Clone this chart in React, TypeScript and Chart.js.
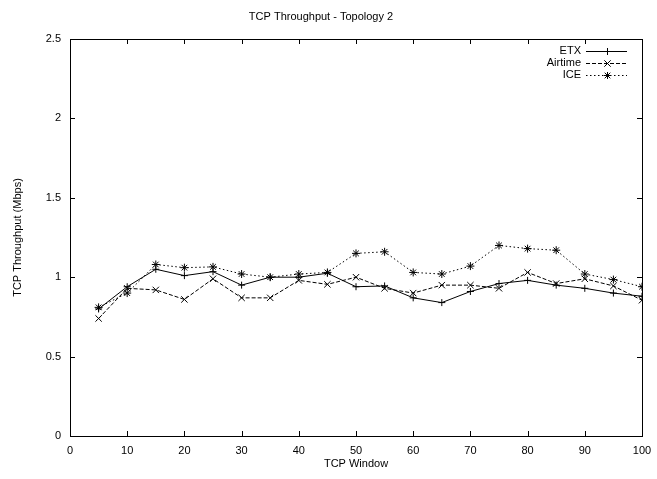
import React, { useEffect, useRef } from "react";
import { Chart, registerables } from "chart.js";

Chart.register(...registerables);

const windows = [5, 10, 15, 20, 25, 30, 35, 40, 45, 50, 55, 60, 65, 70, 75, 80, 85, 90, 95, 100];
const etx = [0.80, 0.94, 1.05, 1.01, 1.035, 0.95, 1.00, 1.00, 1.025, 0.94, 0.945, 0.87, 0.84, 0.91, 0.96, 0.98, 0.95, 0.93, 0.90, 0.88];
const airtime = [0.74, 0.93, 0.92, 0.86, 0.99, 0.87, 0.87, 0.98, 0.955, 1.00, 0.93, 0.90, 0.95, 0.95, 0.93, 1.03, 0.96, 0.99, 0.945, 0.855];
const ice = [0.81, 0.90, 1.08, 1.06, 1.065, 1.02, 1.00, 1.02, 1.03, 1.15, 1.16, 1.03, 1.02, 1.07, 1.20, 1.18, 1.17, 1.02, 0.985, 0.94];

const seriesNames = ["ETX", "Airtime", "ICE"];
const xTicks = [0, 10, 20, 30, 40, 50, 60, 70, 80, 90, 100];
const yTicks = [0, 0.5, 1, 1.5, 2, 2.5];

const FONT = '"Liberation Sans", Arial, Helvetica, sans-serif';

function marker(ctx: CanvasRenderingContext2D, kind: number, x: number, y: number) {
  ctx.beginPath();
  if (kind === 0 || kind === 2) {
    ctx.moveTo(x - 3.5, y);
    ctx.lineTo(x + 3.5, y);
    ctx.moveTo(x, y - 3.5);
    ctx.lineTo(x, y + 3.5);
  }
  if (kind === 1 || kind === 2) {
    const d = kind === 1 ? 3.2 : 2.8;
    ctx.moveTo(x - d, y - d);
    ctx.lineTo(x + d, y + d);
    ctx.moveTo(x - d, y + d);
    ctx.lineTo(x + d, y - d);
  }
  ctx.stroke();
}

const boxPlugin = {
  id: "gnuplotBox",
  afterDraw(chart: any) {
    const { ctx, chartArea } = chart;
    const { left, right, top, bottom } = chartArea;
    const xs = chart.scales.x;
    const ys = chart.scales.y;
    ctx.save();
    ctx.strokeStyle = "#000";
    ctx.lineWidth = 1;
    ctx.setLineDash([]);
    ctx.strokeRect(Math.round(left) + 0.5, Math.round(top) + 0.5, Math.round(right - left), Math.round(bottom - top));
    const tl = 5;
    ctx.beginPath();
    for (const v of xTicks) {
      const px = Math.round(xs.getPixelForValue(v)) + 0.5;
      ctx.moveTo(px, bottom);
      ctx.lineTo(px, bottom - tl);
      ctx.moveTo(px, top);
      ctx.lineTo(px, top + tl);
    }
    for (const v of yTicks) {
      const py = Math.round(ys.getPixelForValue(v)) + 0.5;
      ctx.moveTo(left, py);
      ctx.lineTo(left + tl, py);
      ctx.moveTo(right, py);
      ctx.lineTo(right - tl, py);
    }
    ctx.stroke();

    // legend
    const textRight = right - 61;
    const lineStart = right - 56;
    const lineEnd = right - 15;
    const rowY = [top + 12, top + 24, top + 36];
    const dashes = [[], [4, 2], [1.5, 2.5]];
    ctx.font = "11px " + FONT;
    ctx.fillStyle = "#000";
    ctx.textAlign = "right";
    ctx.textBaseline = "middle";
    chart.data.datasets.forEach((ds: any, i: number) => {
      const y = rowY[i];
      ctx.fillText(ds.label, textRight, y);
      ctx.save();
      ctx.setLineDash(dashes[i]);
      ctx.beginPath();
      ctx.moveTo(lineStart, y + 0.5);
      ctx.lineTo(lineEnd, y + 0.5);
      ctx.stroke();
      ctx.restore();
      ctx.setLineDash([]);
      marker(ctx, i, Math.round((lineStart + lineEnd) / 2) + 0.5, y + 0.5);
    });
    ctx.restore();
  },
};

export default function App() {
  const ref = useRef<HTMLCanvasElement | null>(null);
  useEffect(() => {
    if (!ref.current) return;
    const mk = (label: string, vals: number[], style: string, r: number, dash: number[]) => ({
      label,
      data: windows.map((w, i) => ({ x: w, y: vals[i] })),
      borderColor: "#000",
      backgroundColor: "#000",
      borderWidth: 1,
      borderDash: dash,
      pointStyle: style,
      pointRadius: r,
      pointBorderColor: "#000",
      pointBorderWidth: 1,
      pointHoverRadius: r,
      tension: 0,
      fill: false,
    });
    const chart = new Chart(ref.current, {
      type: "line",
      data: {
        datasets: [
          mk(seriesNames[0], etx, "cross", 3.5, []),
          mk(seriesNames[1], airtime, "crossRot", 4.5, [4, 2]),
          mk(seriesNames[2], ice, "star", 4, [1.5, 2.5]),
        ],
      },
      options: {
        animation: false,
        responsive: true,
        maintainAspectRatio: false,
        layout: { padding: { left: 0, right: 15, top: 0, bottom: 8 } },
        plugins: {
          legend: { display: false },
          tooltip: { enabled: false },
          title: {
            display: true,
            text: "TCP Throughput - Topology 2",
            color: "#000",
            font: { family: FONT, size: 11, weight: "normal" },
            padding: { top: 10.4, bottom: 15.4 },
          },
        },
        scales: {
          x: {
            type: "linear",
            min: 0,
            max: 100,
            afterBuildTicks: (s: any) => {
              s.ticks = xTicks.map((v) => ({ value: v }));
            },
            afterFit: (s: any) => {
              s.height = 35;
              s.paddingLeft = 0;
              s.paddingRight = 0;
            },
            grid: { display: false, drawTicks: false },
            border: { display: false },
            ticks: {
              color: "#000",
              font: { family: FONT, size: 11 },
              padding: 8,
              maxRotation: 0,
              autoSkip: false,
            },
            title: {
              display: true,
              text: "TCP Window",
              color: "#000",
              font: { family: FONT, size: 11 },
              padding: { top: 0, bottom: 0 },
            },
          },
          y: {
            type: "linear",
            min: 0,
            max: 2.5,
            afterBuildTicks: (s: any) => {
              s.ticks = yTicks.map((v) => ({ value: v }));
            },
            afterFit: (s: any) => {
              s.width = 70;
              s.paddingTop = 0;
              s.paddingBottom = 0;
            },
            grid: { display: false, drawTicks: false },
            border: { display: false },
            ticks: {
              color: "#000",
              font: { family: FONT, size: 11 },
              padding: 9,
              autoSkip: false,
              callback: (v: any) => String(v),
            },
            title: {
              display: true,
              text: "TCP Throughput (Mbps)",
              color: "#000",
              font: { family: FONT, size: 11 },
              padding: { top: 11, bottom: 0 },
            },
          },
        },
      } as any,
      plugins: [boxPlugin],
    });
    return () => chart.destroy();
  }, []);
  return (
    <div style={{ position: "fixed", left: 0, top: 0, width: 657, height: 479 }}>
      <canvas ref={ref} />
    </div>
  );
}
